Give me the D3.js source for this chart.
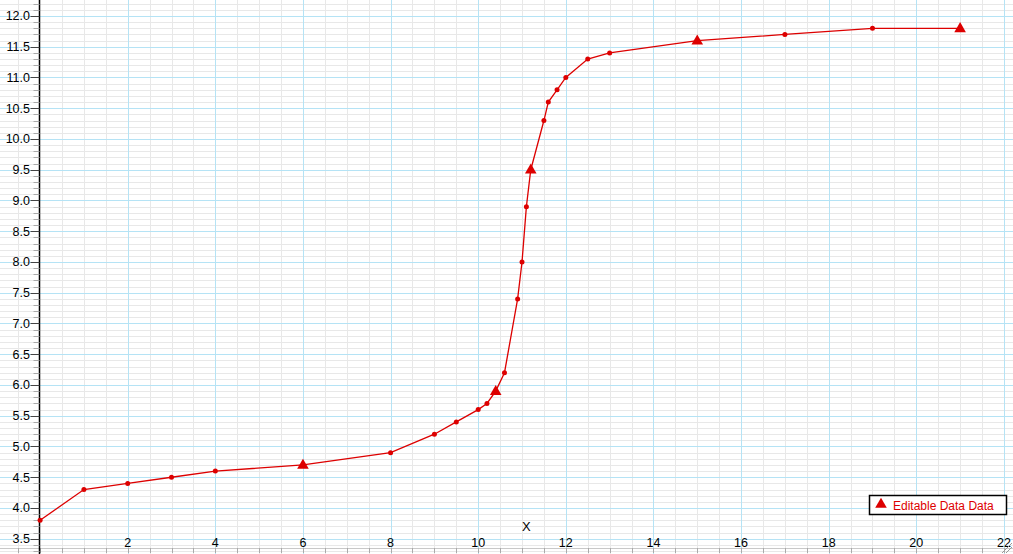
<!DOCTYPE html>
<html>
<head>
<meta charset="utf-8">
<script src="https://cdn.jsdelivr.net/npm/d3@7"></script>
<style>
  html, body { margin: 0; padding: 0; background: #fff; overflow: hidden; }
  svg { display: block; font-family: "Liberation Sans", Arial, Helvetica, sans-serif; }
</style>
</head>
<body>
<svg id="chart" width="1013" height="554"></svg>
<script>
// ---- data ----
const xValues = [0, 1, 2, 3, 4, 6, 8, 9, 9.5, 10, 10.2, 10.4, 10.6, 10.9, 11.0, 11.1, 11.2, 11.5, 11.6, 11.8, 12, 12.5, 13, 15, 17, 19, 21];
const yValues = [3.8, 4.3, 4.4, 4.5, 4.6, 4.7, 4.9, 5.2, 5.4, 5.6, 5.7, 5.9, 6.2, 7.4, 8.0, 8.9, 9.5, 10.3, 10.6, 10.8, 11.0, 11.3, 11.4, 11.6, 11.7, 11.8, 11.8];
const markerTypes = ["dot","dot","dot","dot","dot","tri","dot","dot","dot","dot","dot","tri","dot","dot","dot","dot","tri","dot","dot","dot","dot","dot","dot","tri","dot","dot","tri"];
const xTickLabels = [2, 4, 6, 8, 10, 12, 14, 16, 18, 20, 22];
const yTickLabels = [3.5, 4.0, 4.5, 5.0, 5.5, 6.0, 6.5, 7.0, 7.5, 8.0, 8.5, 9.0, 9.5, 10.0, 10.5, 11.0, 11.5, 12.0];
const seriesName = "Editable Data Data";
const xTitle = "X";

const W = 1013, H = 554;
const svg = d3.select("#chart");

const x = d3.scaleLinear().domain([-0.915, 22.207]).range([0, W]);
const y = d3.scaleLinear().domain([3.252, 12.26]).range([H, 0]);

const red = "#dd0000";
const gridMinor = "#e8e8e8";
const gridMajor = "#b5e3f5";

// minor grid
const gMinor = svg.append("g");
const xMinor = d3.range(-0.5, 22.3, 0.5).filter(v => Math.abs(v % 2) > 1e-6);
const yMinor = d3.range(33, 123, 1).map(v => v / 10).filter(v => Math.abs((v * 10) % 5) > 1e-6);
gMinor.selectAll("line.vx").data(xMinor).join("line")
  .attr("x1", d => Math.round(x(d)) + 0.5).attr("x2", d => Math.round(x(d)) + 0.5)
  .attr("y1", 0).attr("y2", H).attr("stroke", gridMinor).attr("stroke-width", 1);
gMinor.selectAll("line.hy").data(yMinor).join("line")
  .attr("y1", d => Math.round(y(d)) + 0.5).attr("y2", d => Math.round(y(d)) + 0.5)
  .attr("x1", 0).attr("x2", W).attr("stroke", gridMinor).attr("stroke-width", 1);

// major grid
const gMajor = svg.append("g");
gMajor.selectAll("line.vx").data(xTickLabels).join("line")
  .attr("x1", d => Math.round(x(d)) + 0.5).attr("x2", d => Math.round(x(d)) + 0.5)
  .attr("y1", 0).attr("y2", H).attr("stroke", gridMajor).attr("stroke-width", 1);
gMajor.selectAll("line.hy").data(yTickLabels).join("line")
  .attr("y1", d => Math.round(y(d)) + 0.5).attr("y2", d => Math.round(y(d)) + 0.5)
  .attr("x1", 0).attr("x2", W).attr("stroke", gridMajor).attr("stroke-width", 1);

// bottom axis strip
const bottomY = 548;
svg.append("line").attr("x1", 0).attr("x2", W).attr("y1", bottomY + 0.5).attr("y2", bottomY + 0.5)
  .attr("stroke", "#c8c8c8");
svg.append("g").selectAll("line").data(d3.range(-0.5, 22.3, 0.5)).join("line")
  .attr("x1", d => Math.round(x(d)) + 0.5).attr("x2", d => Math.round(x(d)) + 0.5)
  .attr("y1", bottomY).attr("y2", bottomY + 5).attr("stroke", "#aaa");

// y axis line (at x = 0)
const x0 = Math.round(x(0)) - 0.5;
svg.append("line").attr("x1", x0).attr("x2", x0).attr("y1", 0).attr("y2", H)
  .attr("stroke", "#000").attr("stroke-width", 1.5);

// y ticks
svg.append("g").selectAll("line").data(yMinor).join("line")
  .attr("x1", x0 - 6).attr("x2", x0)
  .attr("y1", d => Math.round(y(d)) + 0.5).attr("y2", d => Math.round(y(d)) + 0.5)
  .attr("stroke", "#aaa");
svg.append("g").selectAll("line").data(yTickLabels).join("line")
  .attr("x1", x0 - 9).attr("x2", x0)
  .attr("y1", d => Math.round(y(d)) + 0.5).attr("y2", d => Math.round(y(d)) + 0.5)
  .attr("stroke", "#444");

// y tick labels
svg.append("g").selectAll("text").data(yTickLabels).join("text")
  .attr("x", 30).attr("y", d => y(d))
  .attr("dy", "0.36em").attr("text-anchor", "end")
  .attr("font-size", 12.5).attr("fill", "#000")
  .text(d => d3.format(".1f")(d));

// x tick labels
svg.append("g").selectAll("text").data(xTickLabels).join("text")
  .attr("x", d => x(d)).attr("y", 547)
  .attr("text-anchor", "middle")
  .attr("font-size", 12.5).attr("fill", "#000")
  .text(d => d);

// x axis title
svg.append("text").attr("x", x(11.1)).attr("y", 531)
  .attr("text-anchor", "middle").attr("font-size", 13).attr("fill", "#000")
  .text(xTitle);

// data line
const pts = xValues.map((v, i) => ({ x: v, y: yValues[i], m: markerTypes[i] }));
const line = d3.line().x(d => x(d.x)).y(d => y(d.y));
svg.append("path").datum(pts).attr("d", line)
  .attr("fill", "none").attr("stroke", red).attr("stroke-width", 1.3);

// dots
svg.append("g").selectAll("circle").data(pts.filter(d => d.m === "dot")).join("circle")
  .attr("cx", d => x(d.x)).attr("cy", d => y(d.y)).attr("r", 2.5).attr("fill", red);

// triangles
const tri = d3.symbol().type(d3.symbolTriangle).size(58);
svg.append("g").selectAll("path").data(pts.filter(d => d.m === "tri")).join("path")
  .attr("transform", d => `translate(${x(d.x)},${y(d.y) + 0.5})`)
  .attr("d", tri).attr("fill", red);

// legend
const lg = svg.append("g");
lg.append("rect").attr("x", 869.5).attr("y", 495.5).attr("width", 137).attr("height", 19)
  .attr("fill", "#fff").attr("stroke", "#000").attr("stroke-width", 1.5);
lg.append("path").attr("transform", "translate(881,504.5)")
  .attr("d", d3.symbol().type(d3.symbolTriangle).size(58)).attr("fill", red);
lg.append("text").attr("x", 893).attr("y", 509.5).attr("font-size", 12).attr("fill", red)
  .text(seriesName);

// resize grip
const grip = svg.append("g").attr("stroke", "#999").attr("stroke-width", 1);
grip.append("line").attr("x1", 1002).attr("y1", 553).attr("x2", 1012).attr("y2", 543);
grip.append("line").attr("x1", 1006).attr("y1", 553).attr("x2", 1012).attr("y2", 547);
</script>
</body>
</html>
